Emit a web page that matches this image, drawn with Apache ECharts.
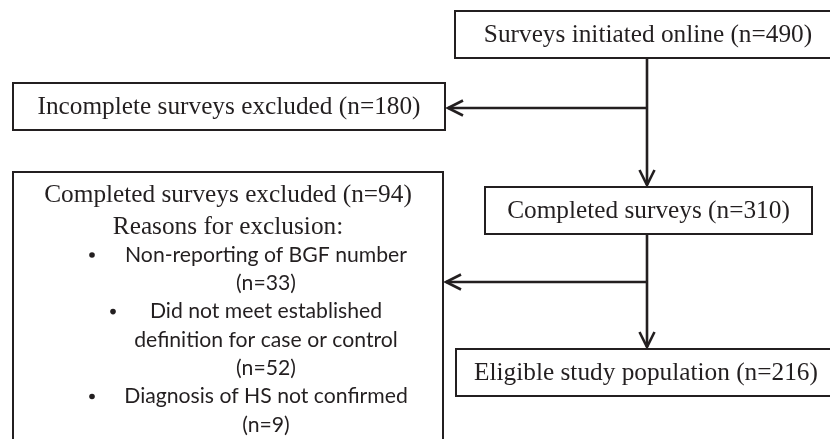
<!DOCTYPE html>
<html>
<head>
<meta charset="utf-8">
<script src="https://cdn.jsdelivr.net/npm/echarts@6/dist/echarts.min.js"></script>
<style>html,body{margin:0;padding:0;background:#fff;}#c{width:830px;height:439px;}</style>
</head>
<body>
<div id="c"></div>
<script>
// ---- data ----
const stages = ['Surveys initiated online', 'Incomplete surveys excluded', 'Completed surveys', 'Completed surveys excluded', 'Eligible study population'];
const counts = [490, 180, 310, 94, 216];
const reasonsTitle = 'Reasons for exclusion:';
const reasons = [['Non-reporting of BGF number'], ['Did not meet established', 'definition for case or control'], ['Diagnosis of HS not confirmed']];
const reasonCounts = [33, 52, 9];

// ---- layout (axis units) ----
const boxes = [
  [455, 11, 842, 58],
  [13, 83, 445, 130],
  [485, 187, 812, 234],
  [13, 172, 443, 460],
  [456, 349, 838, 396]
];
const flows = [
  // [fromX, fromY, toY(main tip), branchY, branchTipX]
  [647, 58, 185, 108, 448],
  [647, 234, 347, 282, 446]
];
const INK = '#231f20';
const SERIF = '25.3px "Liberation Serif", "Times New Roman", serif';
const SANS = '21.2px Lato, "Liberation Sans", sans-serif';

const chart = echarts.init(document.getElementById('c'), null, {renderer: 'canvas'});

function arrowHead(api, tip, dir) {
  const t = api.coord(tip);
  let pts;
  if (dir === 'down') pts = [[t[0] - 7.5, t[1] - 15], t, [t[0] + 7.5, t[1] - 15]];
  else pts = [[t[0] + 15, t[1] - 7.5], t, [t[0] + 15, t[1] + 7.5]];
  return {type: 'polyline', shape: {points: pts}, style: {stroke: INK, lineWidth: 2.6, fill: null}};
}

function renderBox(params, api) {
  const i = params.dataIndex;
  const b = boxes[i];
  const p0 = api.coord([b[0], b[1]]);
  const p1 = api.coord([b[2], b[3]]);
  const children = [{
    type: 'rect',
    shape: {x: p0[0], y: p0[1], width: p1[0] - p0[0], height: p1[1] - p0[1]},
    style: {fill: '#fff', stroke: INK, lineWidth: 2}
  }];
  const label = stages[i] + ' (n=' + counts[i] + ')';
  if (i !== 3) {
    const cx = i === 0 ? 648 : i === 4 ? 646 : (b[0] + b[2]) / 2;
    const c = api.coord([cx, (b[1] + b[3]) / 2 + 1]);
    children.push({type: 'text', style: {text: label, x: c[0], y: c[1], font: SERIF, fill: INK, align: 'center', verticalAlign: 'middle'}});
  } else {
    const cx = (b[0] + b[2]) / 2;
    let c = api.coord([cx, 195]);
    children.push({type: 'text', style: {text: label, x: c[0], y: c[1], font: SERIF, fill: INK, align: 'center', verticalAlign: 'middle'}});
    c = api.coord([cx, 227]);
    children.push({type: 'text', style: {text: reasonsTitle, x: c[0], y: c[1], font: SERIF, fill: INK, align: 'center', verticalAlign: 'middle'}});
    const tx = 266;
    const bulletX = [92, 113, 92];
    let y = 255;
    reasons.forEach((lines, k) => {
      const bp = api.coord([bulletX[k], y]);
      children.push({type: 'circle', shape: {cx: bp[0], cy: bp[1], r: 2.8}, style: {fill: INK}});
      lines.concat(['(n=' + reasonCounts[k] + ')']).forEach(line => {
        const tp = api.coord([tx, y]);
        children.push({type: 'text', style: {text: line, x: tp[0], y: tp[1], font: SANS, fill: INK, align: 'center', verticalAlign: 'middle'}});
        y += 28.3;
      });
    });
  }
  return {type: 'group', children};
}

function renderFlow(params, api) {
  const f = flows[params.dataIndex];
  const a = api.coord([f[0], f[1]]);
  const b = api.coord([f[0], f[2]]);
  const br0 = api.coord([f[0], f[3]]);
  const br1 = api.coord([f[4], f[3]]);
  return {type: 'group', children: [
    {type: 'line', shape: {x1: a[0], y1: a[1], x2: b[0], y2: b[1]}, style: {stroke: INK, lineWidth: 2.6}},
    {type: 'line', shape: {x1: br0[0], y1: br0[1], x2: br1[0], y2: br1[1]}, style: {stroke: INK, lineWidth: 2.6}},
    arrowHead(api, [f[0], f[2]], 'down'),
    arrowHead(api, [f[4], f[3]], 'left')
  ]};
}

chart.setOption({
  animation: false,
  backgroundColor: '#fff',
  grid: {left: 0, right: 0, top: 0, bottom: 0},
  xAxis: {type: 'value', min: 0, max: 830, show: false},
  yAxis: {type: 'value', min: 0, max: 439, inverse: true, show: false},
  series: [
    {type: 'custom', renderItem: renderFlow, data: flows.map((f, i) => i), clip: true},
    {type: 'custom', renderItem: renderBox, data: stages.map((s, i) => i), clip: true}
  ]
});
</script>
</body>
</html>
